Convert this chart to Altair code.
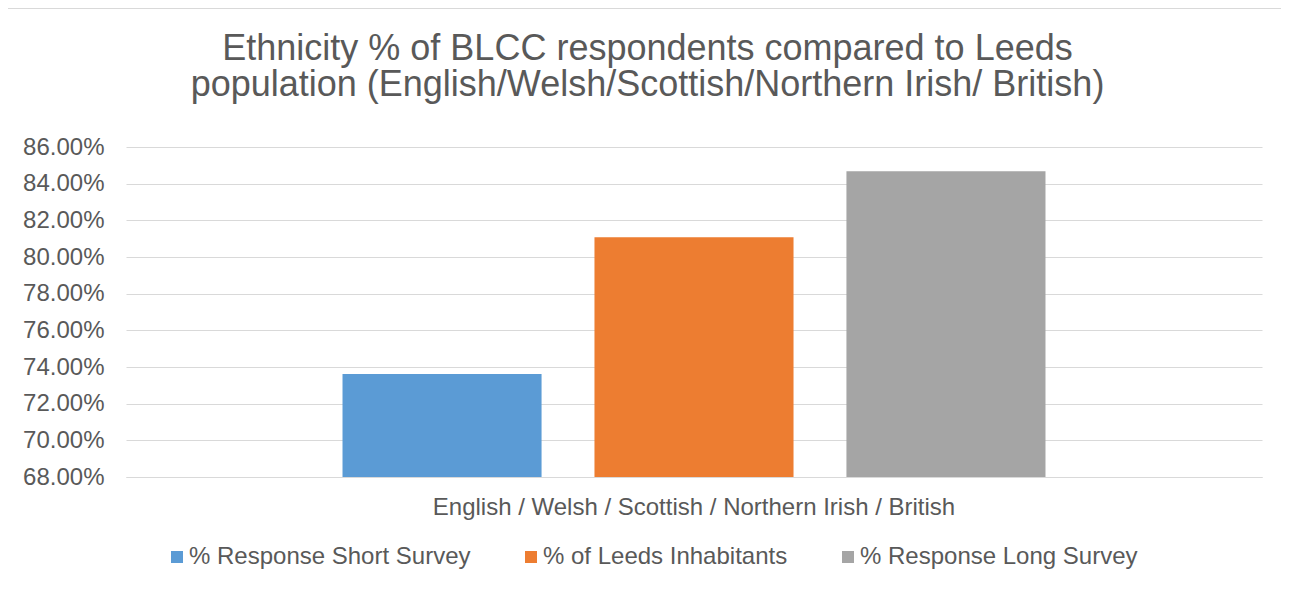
import altair as alt
import pandas as pd

# ---- data ----
category = "English / Welsh / Scottish / Northern Irish / British"
series = ["% Response Short Survey", "% of Leeds Inhabitants", "% Response Long Survey"]
values = [0.7362, 0.8108, 0.8468]
colors = ["#5B9BD5", "#ED7D31", "#A5A5A5"]
y_ticks = [0.68, 0.70, 0.72, 0.74, 0.76, 0.78, 0.80, 0.82, 0.84, 0.86]
title_lines = ["Ethnicity % of BLCC respondents compared to Leeds",
               "population (English/Welsh/Scottish/Northern Irish/ British)"]

df = pd.DataFrame({"category": [category] * len(series), "series": series, "value": values})

FONT = "Liberation Sans"
TXT = "#595959"
GRID = "#D9D9D9"

bars = alt.Chart(df).mark_bar(clip=True).encode(
    x=alt.X("category:N", title=None,
            scale=alt.Scale(paddingOuter=0.308, paddingInner=0),
            axis=alt.Axis(labelAngle=0, labelFontSize=24, labelFont=FONT, labelColor=TXT,
                          labelPadding=18, labelLimit=800, ticks=False, domainColor=GRID,
                          domainWidth=1)),
    xOffset=alt.XOffset("series:N", sort=series,
                        scale=alt.Scale(paddingInner=0.21, paddingOuter=0)),
    y=alt.Y("value:Q", title=None,
            scale=alt.Scale(domain=[0.68, 0.86], zero=False, nice=False),
            axis=alt.Axis(values=y_ticks, format=".2%", labelFontSize=24, labelFont=FONT,
                          labelColor=TXT, labelPadding=22, ticks=False, domain=False,
                          gridColor=GRID, gridWidth=1)),
    color=alt.Color("series:N", sort=series,
                    scale=alt.Scale(domain=series, range=colors),
                    legend=alt.Legend(title=None, orient="none", direction="horizontal",
                                      legendX=39, legendY=398, symbolType="square",
                                      symbolSize=144, symbolStrokeWidth=0, symbolOpacity=1,
                                      labelFontSize=24, labelFont=FONT, labelColor=TXT,
                                      labelLimit=500, labelOffset=0, columnPadding=48,
                                      padding=0)),
)

border_df = pd.DataFrame({"b": [0]})
top_border = alt.Chart(border_df).mark_rule(color=GRID, strokeWidth=1).encode(
    x=alt.value(-125.5), x2=alt.value(1160), y=alt.value(-138.5))
left_border = alt.Chart(border_df).mark_rule(color=GRID, strokeWidth=1).encode(
    x=alt.value(-125.5), y=alt.value(-138.5), y2=alt.value(440))

chart = alt.layer(bars, top_border, left_border).properties(
    width=1136, height=330,
    padding={"left": 118, "top": 139, "right": 19, "bottom": 112},
    autosize="none",
    title=alt.TitleParams(title_lines, fontSize=36, font=FONT, color=TXT, fontWeight="normal",
                          lineHeight=36.5, anchor="middle", frame="group", dx=-46.5,
                          offset=-96),
).configure(background="white").configure_view(stroke=None)

chart.save("out.html", embed_options={"renderer": "svg", "actions": False})
